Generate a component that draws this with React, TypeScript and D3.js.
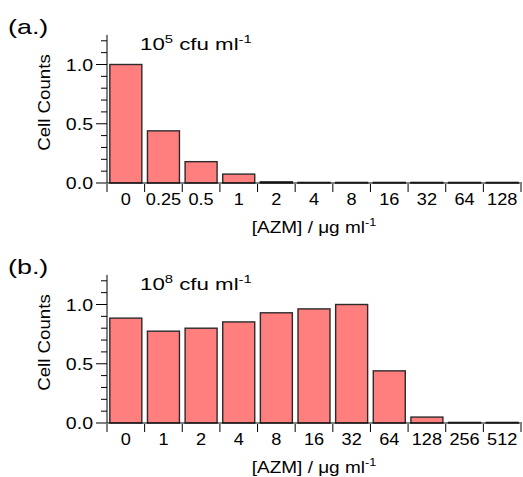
import React from 'react';
import * as d3 from 'd3';

const catsA = ['0', '0.25', '0.5', '1', '2', '4', '8', '16', '32', '64', '128'];
const valsA = [1.0, 0.44, 0.18, 0.075, 0.01, 0.005, 0.005, 0.005, 0.005, 0.005, 0.005];

const catsB = ['0', '1', '2', '4', '8', '16', '32', '64', '128', '256', '512'];
const valsB = [0.885, 0.775, 0.8, 0.853, 0.93, 0.963, 1.0, 0.44, 0.05, 0.005, 0.005];

const yMajor = [0, 0.5, 1.0];
const yMinor = [0.1, 0.2, 0.3, 0.4, 0.6, 0.7, 0.8, 0.9, 1.1, 1.2];

const W = 523;
const H = 477;
const FONT = '"Liberation Sans", Arial, Helvetica, sans-serif';
const BAR_FILL = '#ff7f7f';
const BAR_STROKE = '#2b2b2b';

// stretched text (the source font is wider than Arial)
const T = ({ x, y, sx = 1.15, size = 17, anchor = 'start', rotate = 0, children }) => (
    <text
        transform={`translate(${x},${y}) rotate(${rotate}) scale(${sx},1)`}
        textAnchor={anchor}
        fontSize={size}
        fontFamily={FONT}
        fill="#000"
    >
        {children}
    </text>
);

const Panel = ({ top, label, expo, cats, vals }) => {
    const left = 107;
    const right = 521;
    const y0 = top + 183;
    const y = d3.scaleLinear().domain([0, 1]).range([y0, y0 - 118.5]);
    const x = d3.scaleBand().domain(cats).range([left, right]).padding(0);
    const bw = x.bandwidth();
    const pad = bw * 0.075;
    const yTop = y(1.25);

    return (
        <g>
            <T x={8} y={top + 34} size={21} sx={1.28}>{label}</T>
            <T x={140} y={top + 50} size={16.5} sx={1.35}>
                10<tspan dy={-7} fontSize={11}>{expo}</tspan>
                <tspan dy={7}> cfu ml</tspan>
                <tspan dy={-7} fontSize={11}>-1</tspan>
            </T>

            {/* bars */}
            {vals.map((v, i) => (
                <rect
                    key={i}
                    x={x(cats[i]) + pad}
                    y={y(v)}
                    width={bw - 2 * pad}
                    height={y(0) - y(v)}
                    fill={BAR_FILL}
                    stroke={BAR_STROKE}
                    strokeWidth={1.4}
                />
            ))}

            {/* y axis */}
            <line x1={left} x2={left} y1={yTop} y2={y0} stroke="#000" strokeWidth={1} />
            {yMajor.map(t => (
                <g key={t}>
                    <line x1={left - 11} x2={left} y1={y(t)} y2={y(t)} stroke="#000" strokeWidth={1} />
                    <T x={left - 14} y={y(t) + 6} anchor="end" size={17} sx={1.15}>
                        {d3.format('.1f')(t)}
                    </T>
                </g>
            ))}
            {yMinor.map(t => (
                <line key={t} x1={left - 6} x2={left} y1={y(t)} y2={y(t)} stroke="#000" strokeWidth={1} />
            ))}
            <T x={50} y={top + 102.5} anchor="middle" rotate={-90} size={17} sx={1.1}>
                Cell Counts
            </T>

            {/* x axis */}
            <line x1={left} x2={right + 1} y1={y0} y2={y0} stroke="#000" strokeWidth={1} />
            {cats.map((c, i) => (
                <line key={'t' + i} x1={x(c)} x2={x(c)} y1={y0 + 1} y2={y0 + 9} stroke="#000" strokeWidth={1} />
            ))}
            <line x1={right} x2={right} y1={y0 + 1} y2={y0 + 9} stroke="#000" strokeWidth={1} />
            {cats.map(c => (
                <T key={'l' + c} x={x(c) + bw / 2} y={y0 + 22} anchor="middle" size={16.5} sx={1.1}>
                    {c}
                </T>
            ))}
            <T x={(left + right) / 2} y={y0 + 50} anchor="middle" size={16.5} sx={1.15}>
                [AZM] / μg ml<tspan dy={-7} fontSize={11}>-1</tspan>
            </T>
        </g>
    );
};

export default function App() {
    return (
        <svg
            width={W}
            height={H}
            style={{ position: 'absolute', left: 0, top: 0, background: '#fff' }}
        >
            <Panel top={0} label="(a.)" expo="5" cats={catsA} vals={valsA} />
            <Panel top={240} label="(b.)" expo="8" cats={catsB} vals={valsB} />
        </svg>
    );
}
